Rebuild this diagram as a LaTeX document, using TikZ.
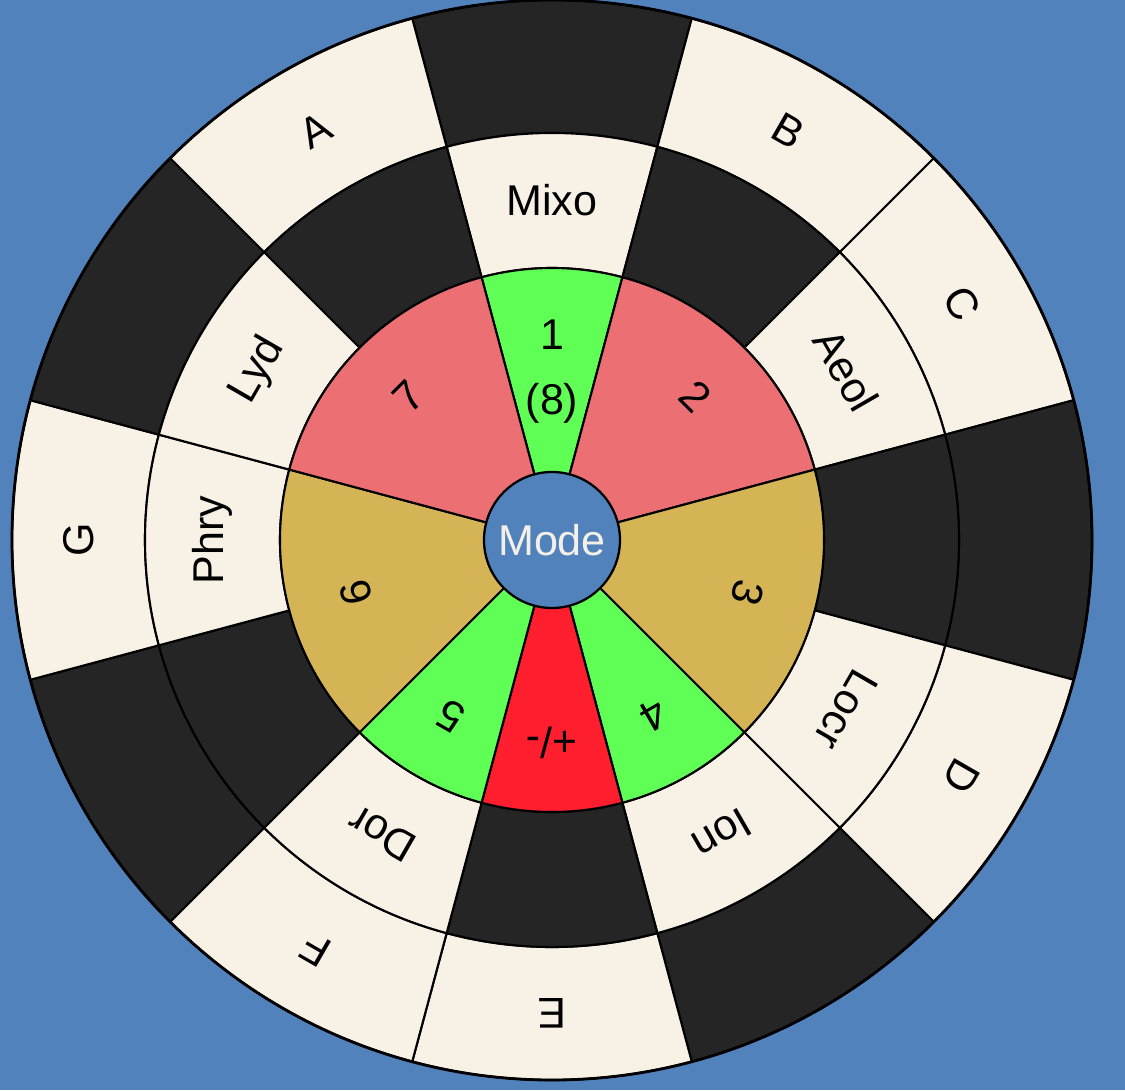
\documentclass[tikz,border=0pt]{standalone}
\usepackage{fontspec}
\setmainfont{Liberation Sans}
\definecolor{bgblue}{RGB}{82,130,188}
\definecolor{cream}{RGB}{248,241,230}
\definecolor{keyblack}{RGB}{37,37,37}
\definecolor{dgreen}{RGB}{95,255,85}
\definecolor{dpink}{RGB}{236,112,115}
\definecolor{dgold}{RGB}{212,180,85}
\definecolor{dred}{RGB}{255,30,45}
\definecolor{modetext}{RGB}{244,240,232}
\begin{document}
\begin{tikzpicture}[
  lbl/.style={font=\fontsize{24.5}{29}\selectfont, text=black, inner sep=0pt},
  seg/.style={draw=black, line width=1.2pt, line join=round},
]
\fill[bgblue] (-11.04,-11.0) rectangle (11.46,10.8);
\useasboundingbox (-11.04,-11.0) rectangle (11.46,10.8);

% outer ring (notes)
\foreach \a/\c in {90/keyblack,60/cream,30/cream,0/keyblack,-30/cream,-60/keyblack,-90/cream,-120/cream,-150/keyblack,180/cream,150/keyblack,120/cream}{
  \filldraw[seg, fill=\c] ({\a-15}:8.14) -- ({\a-15}:10.8) arc[start angle={\a-15}, end angle={\a+15}, radius=10.8cm] -- ({\a+15}:8.14) arc[start angle={\a+15}, end angle={\a-15}, radius=8.14cm] -- cycle;
}
% middle ring (modes)
\foreach \a/\c in {90/cream,60/keyblack,30/cream,0/keyblack,-30/cream,-60/cream,-90/keyblack,-120/cream,-150/keyblack,180/cream,150/cream,120/keyblack}{
  \filldraw[seg, fill=\c] ({\a-15}:5.44) -- ({\a-15}:8.14) arc[start angle={\a-15}, end angle={\a+15}, radius=8.14cm] -- ({\a+15}:5.44) arc[start angle={\a+15}, end angle={\a-15}, radius=5.44cm] -- cycle;
}
% inner wedges (degrees)
\foreach \s/\e/\c in {75/105/dgreen,15/75/dpink,-45/15/dgold,-75/-45/dgreen,-105/-75/dred,-135/-105/dgreen,165/225/dgold,105/165/dpink}{
  \filldraw[seg, fill=\c] (0,0) -- ({\s}:5.44) arc[start angle={\s}, end angle={\e}, radius=5.44cm] -- cycle;
}
\draw[line width=1.6pt] (0,0) circle[radius=10.8cm];

% note labels
\foreach \a/\t/\n in {120/A/nA,60/B/nB,30/C/nC,-30/D/nD,-90/E/nE,-120/F/nF,180/G/nG}{
  \node[lbl, rotate={\a-90}] (\n) at (\a:9.46) {\t};
}
% mode labels
\foreach \a/\t/\n in {90/Mixo/mMixo,30/Aeol/mAeol,-30/Locr/mLocr,-60/Ion/mIon,-120/Dor/mDor,180/Phry/mPhry,150/Lyd/mLyd}{
  \node[lbl, rotate={\a-90}] (\n) at (\a:6.79) {\t};
}
% degree labels
\foreach \a/\t/\n in {45/2/d2,-15/3/d3,-60/4/d4,-90/{+/-}/dpm,-120/5/d5,195/6/d6,135/7/d7}{
  \node[lbl, rotate={\a-90}] (\n) at (\a:4.06) {\t};
}
\node[lbl] (d1) at (90:4.1) {1};
\node[lbl] (d8) at (90:2.74) {(8)};

\node[circle, draw=black, line width=1.3pt, fill=bgblue, minimum size=2.72cm, inner sep=0pt, text=modetext, font=\fontsize{24.5}{29}\selectfont] (mode) at (0,0) {Mode};
\end{tikzpicture}
\end{document}
